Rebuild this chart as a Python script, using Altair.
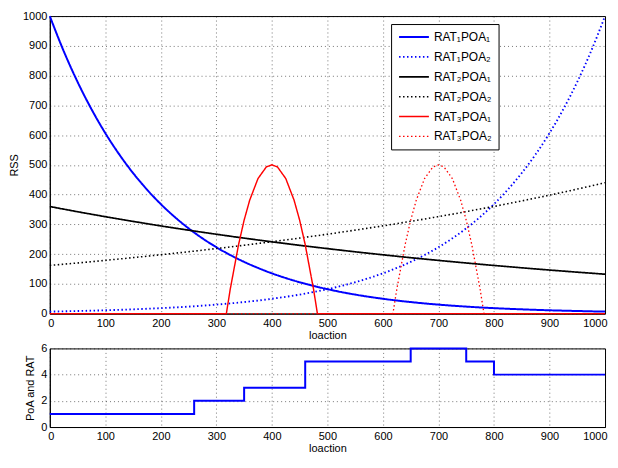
import altair as alt
import pandas as pd

# ---- data ----
X_EXP = [0, 25, 50, 75, 100, 125, 150, 175, 200, 225, 250, 275, 300, 325, 350, 375,
         400, 425, 450, 475, 500, 525, 550, 575, 600, 625, 650, 675, 700, 725, 750,
         775, 800, 825, 850, 875, 900, 925, 950, 975, 1000]

RAT1POA1 = [1000, 882.5, 778.8, 687.3, 606.5, 535.3, 472.4, 416.9, 367.9, 324.7, 286.5,
            252.9, 223.1, 196.9, 173.8, 153.4, 135.3, 119.4, 105.4, 93.0, 82.1, 72.4,
            63.9, 56.4, 49.8, 43.9, 38.8, 34.2, 30.2, 26.6, 23.5, 20.7, 18.3, 16.2,
            14.3, 12.6, 11.1, 9.8, 8.7, 7.6, 6.7]
RAT1POA2 = [6.7, 7.6, 8.7, 9.8, 11.1, 12.6, 14.3, 16.2, 18.3, 20.7, 23.5, 26.6, 30.2,
            34.2, 38.8, 43.9, 49.8, 56.4, 63.9, 72.4, 82.1, 93.0, 105.4, 119.4, 135.3,
            153.4, 173.8, 196.9, 223.1, 252.9, 286.5, 324.7, 367.9, 416.9, 472.4, 535.3,
            606.5, 687.3, 778.8, 882.5, 1000]
RAT2POA1 = [360.0, 351.1, 342.4, 334.0, 325.7, 317.7, 309.9, 302.2, 294.7, 287.5, 280.4,
            273.4, 266.7, 260.1, 253.7, 247.4, 241.3, 235.4, 229.5, 223.9, 218.4, 213.0,
            207.7, 202.6, 197.6, 192.7, 187.9, 183.3, 178.8, 174.4, 170.1, 165.9, 161.8,
            157.8, 153.9, 150.1, 146.4, 142.8, 139.2, 135.8, 132.4]
RAT2POA2 = [161.9, 166.0, 170.1, 174.5, 178.9, 183.5, 188.1, 192.9, 197.8, 202.8, 207.9,
            213.2, 218.5, 224.0, 229.7, 235.5, 241.5, 247.6, 253.9, 260.3, 266.9, 273.7,
            280.5, 287.7, 294.9, 302.4, 310.1, 317.9, 326.0, 334.2, 342.7, 351.4, 360.2,
            369.4, 378.8, 388.3, 398.1, 408.2, 418.5, 429.1, 440.0]

X_RAT3POA1 = [0, 300, 318, 325, 340, 350, 360, 375, 390, 400, 410, 425, 440, 450, 460,
              475, 482, 500, 1000]
X_RAT3POA2 = [0, 600, 618, 625, 640, 650, 660, 675, 690, 700, 710, 725, 740, 750, 760,
              775, 782, 800, 1000]
RAT3POA1 = [0, 0, 0, 82, 232, 314, 381, 454, 493, 500, 493, 454, 381, 314, 232, 82, 0, 0, 0]
RAT3POA2 = [0, 0, 0, 82, 232, 314, 381, 454, 493, 500, 493, 454, 381, 314, 232, 82, 0, 0, 0]

STEP_X = [0, 260, 350, 460, 650, 750, 800, 1000]
STEP_Y = [1, 2, 3, 5, 6, 5, 4, 4]

X_TICKS = [0, 100, 200, 300, 400, 500, 600, 700, 800, 900, 1000]
Y_TICKS_TOP = [0, 100, 200, 300, 400, 500, 600, 700, 800, 900, 1000]
Y_TICKS_BOTTOM = [0, 2, 4, 6]

NAMES = ["RAT₁POA₁", "RAT₁POA₂", "RAT₂POA₁", "RAT₂POA₂", "RAT₃POA₁", "RAT₃POA₂"]
COLORS = ["#0000ff", "#0000ff", "#000000", "#000000", "#ff0000", "#ff0000"]
DASHES = [[1, 0], [1.5, 2.5], [1, 0], [1.5, 2.5], [1, 0], [1.5, 2.5]]
WIDTHS = [2, 1.3, 2, 1.3, 2, 1.3]

rows = []
for name, xs, ys, kind in [
    (NAMES[0], X_EXP, RAT1POA1, "exp"),
    (NAMES[1], X_EXP, RAT1POA2, "exp"),
    (NAMES[2], X_EXP, RAT2POA1, "exp"),
    (NAMES[3], X_EXP, RAT2POA2, "exp"),
    (NAMES[4], X_RAT3POA1, RAT3POA1, "peak"),
    (NAMES[5], X_RAT3POA2, RAT3POA2, "peak"),
]:
    for i, (x, y) in enumerate(zip(xs, ys)):
        rows.append({"series": name, "x": x, "y": y, "kind": kind, "i": i})
df = pd.DataFrame(rows)
df_step = pd.DataFrame({"x": STEP_X, "y": STEP_Y})

FONT = "Liberation Sans"
W = 558

def x_enc():
    return alt.X("x:Q", title="loaction",
                 scale=alt.Scale(domain=[0, 1000], nice=False),
                 axis=alt.Axis(values=X_TICKS, format="d", ticks=False, labelPadding=4,
                               titlePadding=1, labelFlush=True, labelFlushOffset=2))

y_top = alt.Y("y:Q", title="RSS",
              scale=alt.Scale(domain=[0, 1000], nice=False),
              axis=alt.Axis(values=Y_TICKS_TOP, format="d", ticks=False,
                            labelPadding=3, titlePadding=3))

legend = alt.Legend(title=None, orient="none", legendX=343, legendY=8,
                    symbolType="stroke", symbolSize=900, clipHeight=12,
                    labelFont=FONT, labelFontSize=12, labelOffset=4, rowPadding=8,
                    padding=7, strokeColor="black", fillColor="white",
                    labelColor="black")

color = alt.Color("series:N", scale=alt.Scale(domain=NAMES, range=COLORS), legend=legend)
dash = alt.StrokeDash("series:N", scale=alt.Scale(domain=NAMES, range=DASHES), legend=legend)
width = alt.StrokeWidth("series:N", scale=alt.Scale(domain=NAMES, range=WIDTHS), legend=legend)

base = alt.Chart(df).encode(x=x_enc(), y=y_top, color=color, strokeDash=dash,
                            strokeWidth=width, order="i:Q")
exp_lines = base.transform_filter("datum.kind == 'exp'").mark_line(interpolate="monotone")
peak_lines = base.transform_filter("datum.kind == 'peak'").mark_line(interpolate="linear")

top = alt.layer(exp_lines, peak_lines).properties(width=W, height=299)

bottom = alt.Chart(df_step).mark_line(interpolate="step-after", color="#0000ff",
                                      strokeWidth=2).encode(
    x=x_enc(),
    y=alt.Y("y:Q", title="PoA and RAT", scale=alt.Scale(domain=[0, 6], nice=False),
            axis=alt.Axis(values=Y_TICKS_BOTTOM, format="d", ticks=False,
                          labelPadding=3, titlePadding=5)),
).properties(width=W, height=79)

chart = alt.vconcat(top, bottom, spacing=0).properties(
    padding={"left": 0, "top": 0, "right": 0, "bottom": 0}
).configure_view(stroke="black", strokeWidth=1).configure_axis(
    labelFont=FONT, titleFont=FONT, labelFontSize=11, titleFontSize=11,
    titleFontWeight="normal", labelColor="black", titleColor="black",
    domainColor="black", domainWidth=1, gridColor="black", gridDash=[1, 3],
    gridOpacity=0.55, gridWidth=1
)

chart.save("out.html", embed_options={"renderer": "svg", "actions": False})
